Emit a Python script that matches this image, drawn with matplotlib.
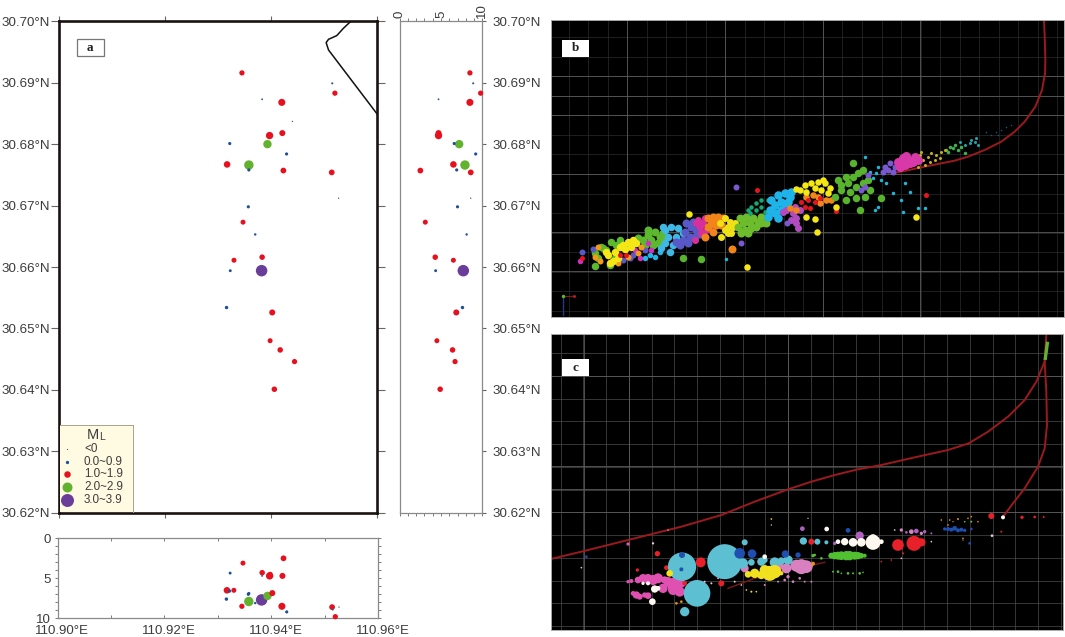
import numpy as np
import matplotlib
matplotlib.use('Agg')
import matplotlib.pyplot as plt
from matplotlib.patches import Rectangle
from matplotlib.transforms import ScaledTranslation

plt.rcParams['font.family'] = ['Liberation Sans', 'DejaVu Sans']

# ---- events of panel a (lon, lat, depth km, ML, shown in the lon section) ----
event_lon = [110.9345, 110.9515, 110.9520, 110.9383, 110.9420, 110.9440, 110.9421, 110.9397, 110.9393, 110.9322,
             110.9429, 110.9317, 110.9358, 110.9358, 110.9423, 110.9514, 110.9527, 110.9357, 110.9347, 110.9370,
             110.9383, 110.9330, 110.9382, 110.9323, 110.9316, 110.9402, 110.9398, 110.9417, 110.9444, 110.9406]
event_lat = [30.6916, 30.6899, 30.6883, 30.6873, 30.6868, 30.6837, 30.6818, 30.6814, 30.6800, 30.6801,
             30.6784, 30.6767, 30.6766, 30.6758, 30.6757, 30.6754, 30.6712, 30.6698, 30.6673, 30.6653,
             30.6616, 30.6611, 30.6594, 30.6594, 30.6534, 30.6526, 30.6480, 30.6465, 30.6446, 30.6401]
event_depth = [8.5, 8.9, 9.8, 4.7, 8.5, np.nan, 4.7, 4.7, 7.2, 6.6,
               9.2, 6.5, 7.9, 6.9, 2.5, 8.6, 8.6, 7.0, 3.1, 8.1,
               4.3, 6.5, 7.7, 4.35, 7.6, 6.85, 4.5, 6.4, 6.7, 4.9]
event_mag = [1.1, -0.1, 1.1, -0.2, 1.8, -0.4, 1.4, 1.9, 2.3, 0.3,
             0.3, 1.6, 2.7, 0.3, 1.3, 1.3, -0.4, 0.3, 1.0, 0.0,
             1.2, 1.0, 3.5, 0.2, 0.4, 1.4, 1.0, 1.2, 1.1, 1.2]
in_lon_section = [1, 1, 1, 1, 1, 0, 1, 1, 1, 1,
                  1, 1, 1, 1, 1, 1, 1, 1, 1, 1,
                  1, 1, 1, 1, 1, 1, 1, 0, 0, 0]

coast_lon = [110.9550, 110.9536, 110.95235, 110.9508, 110.95035, 110.9508, 110.9600]
coast_lat = [30.7000, 30.69886, 30.69767, 30.69707, 30.69653, 30.69533, 30.68485]

legend_labels = ['<0', '0.0~0.9', '1.0~1.9', '2.0~2.9', '3.0~3.9']
legend_diam = [1.2, 3.3, 6.5, 10, 13]
class_colors = ['#3a5a8c', '#1d4f9c', '#e6101e', '#62b22f', '#6a3d9a']

lon_ticks = [110.90, 110.92, 110.94, 110.96]
lat_ticks = [30.62, 30.63, 30.64, 30.65, 30.66, 30.67, 30.68, 30.69, 30.70]
depth_ticks = [0, 5, 10]

# ---- panel b, positions, grouped by colour along the band ----
b_green1 = [(140,728),(150,745),(165,715),(190,695),(175,720),(205,705),(140,768),(185,765),(160,712),(200,745),(215,690),(235,705)]
b_yellow1 = [(225,705),(240,695),(215,712),(255,690),(230,718),(180,735),(195,752),(185,760),(210,745),(265,700),(175,725),(250,710),(200,725)]
b_orange1 = [(142,740),(150,712),(210,760),(270,730),(240,740),(280,712),(155,752)]
b_indigo1 = [(103,727),(245,745),(135,718),(225,750),(290,720),(255,735)]
b_red1 = [(103,744),(235,735),(215,735)]
b_magenta1 = [(95,752),(275,745),(260,720),(300,700),(310,720)]
b_sky1 = [(320,740),(305,735),(290,745),(335,725)]
b_green2 = [(285,690),(300,675),(320,665),(335,680),(310,690),(290,705),(330,700),(345,690),(270,685),(315,705),(345,670),(300,660)]
b_sky2 = [(350,660),(370,650),(390,655),(360,680),(385,680),(405,670),(350,700),(375,705),(400,695),(340,715),(365,725),(345,650)]
b_indigo2 = [(415,640),(430,650),(445,660),(410,665),(425,680),(440,680),(405,690),(420,700),(395,705),(455,672),(385,695),(435,635)]
b_magenta2 = [(450,630),(465,640),(475,660),(455,650),(445,640),(470,625),(485,650),(460,670),(440,690)]
b_orange2 = [(480,625),(495,620),(510,630),(525,625),(490,640),(505,645),(520,645),(480,650),(495,665),(510,620),(470,680),(552,716)]
b_yellow2 = [(530,625),(545,635),(555,650),(540,650),(550,670),(530,660),(520,680),(515,640),(560,640),(540,668)]
b_green3 = [(575,625),(595,620),(615,625),(630,635),(585,640),(605,640),(625,650),(590,660),(610,655),(600,670),(640,640),(570,650),(580,670),(640,620),(655,640)]
b_teal = [(610,590),(625,580),(640,590),(650,605),(625,600),(605,610),(640,570),(660,570),(600,600)]
b_sky3 = [(670,570),(690,555),(710,550),(725,560),(680,585),(700,575),(720,575),(665,600),(680,610),(700,600),(660,620),(690,625),(730,545),(710,590)]
b_magenta3 = [(715,600),(735,610),(745,625),(755,600),(730,630),(745,640),(750,655),(740,590),(705,605)]
b_red3 = [(770,590),(785,595),(800,575),(780,570),(760,575),(815,565),(865,603),(628,540),(1133,555)]
b_orange3 = [(775,560),(795,555),(815,580),(835,570),(810,560),(850,570),(725,595),(745,600)]
b_yellow3 = [(770,525),(790,520),(810,515),(830,520),(845,535),(800,535),(820,540),(775,545),(755,540),(840,550),(825,510),(745,538),(775,620),(800,628),(865,592),(807,665),(596,770),(424,613),(1104,620)]
b_green4 = [(860,560),(880,540),(900,520),(915,500),(930,490),(945,480),(895,500),(870,510),(905,545),(925,530),(945,520),(960,510),(895,570),(925,565),(950,560),(880,525),(965,540),(935,600),(915,460),(998,563),(405,744),(458,747)]
b_sky4 = [(965,485),(985,490),(1000,510),(975,505),(990,470),(1015,520),(980,600),(1060,570),(1072,520),(1035,550),(1065,605),(1110,595),(1130,595),(1085,545),(950,440),(990,590),(533,748)]
b_violet = [(1010,470),(1025,460),(1040,470),(1020,480),(1005,485),(1035,485),(950,530),(960,495),(940,540),(563,530),(580,700),(716,638)]
b_magenta4 = [(1050,455),(1065,445),(1080,450),(1095,455),(1110,450),(1070,465),(1085,460),(1055,470),(1100,440),(1075,438)]
b_gold = [(1115,435),(1125,450),(1140,440),(1150,430),(1165,435),(1180,425),(1130,465),(1145,455),(1160,450),(1175,445),(1120,425),(1190,420),(1110,470)]
b_green5 = [(1195,420),(1205,410),(1215,415),(1230,420),(1220,405),(1240,410),(1200,425),(1250,430)]
b_teal5 = [(1235,395),(1250,405),(1265,400),(1280,395),(1290,405),(1270,390),(1285,385),(1240,410)]
b_dark_teal = [(1315,365),(1330,375),(1345,365),(1360,360),(1375,350),(1390,345),(1350,375)]

b_curve = [(1488,30),(1490,80),(1492,150),(1491,190),(1482,240),(1462,290),(1430,335),(1400,365),(1360,395),(1310,420),(1260,440),(1220,452),(1170,462),(1120,472),(1060,485),(1030,490)]
b_corner_line = [(44,857),(78,857)]
b_corner_drop = [(44,865),(44,915)]

c_cyan = [(530,710,105),(447,805,80),(402,725,85),(410,860,28),(590,652,18),(766,648,22),(808,650,18),(640,710,25),(680,712,30),(720,705,28),(610,712,20),(835,652,12),(650,705,18),(700,708,22),(585,715,30)]
c_blue = [(575,685,32),(612,686,26),(402,690,18),(400,733,12),(712,687,22),(750,690,16),(900,616,14),(1190,612,10),(1210,614,12),(1230,616,12),(1250,616,10),(1270,612,8),(115,695,8),(1220,610,14),(1200,612,12),(1240,614,12),(1265,655,8)]
c_red = [(458,712,30),(328,686,16),(1050,660,35),(1098,655,45),(1120,652,25),(790,650,18),(1330,573,18),(1422,577,10),(1460,576,8),(1487,576,6),(268,735,10),(520,775,18),(355,728,14),(410,775,14),(1065,685,6),(1030,705,5),(1000,710,5),(1360,620,6)]
c_magenta = [(380,780,45),(330,760,30),(300,762,30),(270,765,20),(250,768,12),(265,810,22),(300,812,20),(375,795,30),(350,765,22),(240,657,10),(240,770,10),(285,760,26),(315,765,30),(345,790,28),(395,800,30),(290,810,16),(255,805,14),(275,815,18),(360,770,28),(400,775,26)]
c_pink = [(760,725,45),(715,730,30),(790,720,12),(590,730,24),(735,770,8),(770,770,6),(710,765,8),(745,722,36),(775,725,38),(695,722,22),(600,745,10),(650,780,6),(690,770,6),(720,755,10),(755,760,8),(790,770,6),(1060,615,10),(1090,620,14),(1120,625,10)]
c_yellow = [(665,745,45),(620,745,28),(640,750,25),(365,745,20),(700,745,12),(610,800,6),(670,582,5),(680,740,40),(650,735,30),(600,748,20),(625,800,5),(595,795,5)]
c_green = [(850,692,18),(870,692,24),(895,692,28),(920,692,24),(940,692,16),(795,692,10),(870,740,8),(900,745,8),(935,745,8),(820,700,8),(1270,590,6),(860,692,22),(880,692,26),(905,692,28),(930,692,22),(950,692,12),(855,740,6),(880,745,5),(915,745,6),(945,742,5),(800,690,8),(1250,590,5)]
c_white = [(890,650,22),(915,652,26),(940,652,26),(975,652,45),(975,640,25),(320,792,22),(313,830,20),(285,775,10),(650,695,14),(1000,650,14),(836,612,14),(1365,577,12),(300,775,12),(330,790,14),(870,650,14)]
c_violet = [(935,632,25),(763,611,14),(1105,618,14),(1130,620,10),(860,655,10),(1075,622,8),(1150,625,6)]
c_orange = [(1180,585,5),(1205,585,5),(1230,582,6),(1260,580,5),(1290,590,5),(385,835,8),(400,830,8),(795,716,12),(1245,645,4),(1200,600,5),(1245,640,5),(1215,590,4),(1270,575,5)]
c_dust = [(470,770,6),(490,775,6),(510,760,5),(560,770,6),(580,780,5),(1040,615,5),(1060,700,5),(1150,650,5),(1332,632,8),(360,615,4),(100,728,5),(315,655,7),(670,600,4),(780,580,4)]

c_upper_curve = [(8,702),(100,680),(200,655),(300,630),(400,605),(520,570),(620,530),(720,493),(790,470),(860,450),(930,433),(1000,420),(1100,397),(1200,375),(1262,355),(1320,320),(1380,275),(1430,225),(1465,170),(1490,110),(1495,30)]
c_lower_curve = [(1490,110),(1495,200),(1497,300),(1490,370),(1470,425),(1430,490),(1395,535),(1365,575)]
c_band_curve = [(830,712),(700,740),(620,760),(540,790)]
c_green_piece = [(1498,55),(1492,100)]

b_bright_rows = [198, 257, 315, 491, 667, 784]
b_bright_cols = [238, 530, 824, 1117]
c_bright_rows = [152, 424, 492, 560]
c_bright_cols = [107, 243, 721]

FIG_W, FIG_H = 1065, 637
TEXT_COLOR = '#3c3c3c'
FRAME_GRAY = '#8a8a8a'
TICK_GRAY = '#666666'
CURVE_RED = '#9c1a1e'


def add_axes_px(fig, left, top, right, bottom):
    return fig.add_axes([left / FIG_W, 1 - bottom / FIG_H, (right - left) / FIG_W, (bottom - top) / FIG_H])


def diam_to_s(diam_px):
    # scatter wants points^2, diameters are in pixels at dpi 100
    return (np.asarray(diam_px) * 0.72) ** 2


def mag_colors(mags):
    out = []
    for m in mags:
        if m < 0:
            out.append(class_colors[0])
        elif m < 1:
            out.append(class_colors[1])
        elif m < 2:
            out.append(class_colors[2])
        elif m < 3:
            out.append(class_colors[3])
        else:
            out.append(class_colors[4])
    return out


lon = np.array(event_lon)
lat = np.array(event_lat)
depth = np.array(event_depth)
mag = np.array(event_mag)
keep_lon = np.array(in_lon_section) == 1
order = np.argsort(-mag)
sizes = diam_to_s(2.4 + 2.6 * mag)
colors = np.array(mag_colors(mag))

fig = plt.figure(figsize=(FIG_W / 100, FIG_H / 100), dpi=100, facecolor='white')

# ---- a: map ----
ax_map = add_axes_px(fig, 58.7, 21.3, 377.4, 512.7)
ax_map.scatter(lon[order], lat[order], s=sizes[order], c=colors[order], linewidths=0, zorder=3)
ax_map.plot(coast_lon, coast_lat, color='#111111', lw=1.1, zorder=2)
ax_map.set_xlim(110.90, 110.96)
ax_map.set_ylim(30.62, 30.70)
ax_map.set_xticks(lon_ticks)
ax_map.set_yticks(lat_ticks)
ax_map.set_yticklabels([f'{v:.2f}°N' for v in lat_ticks], fontsize=9.6, color=TEXT_COLOR)
ax_map.tick_params(axis='x', top=True, bottom=True, labelbottom=False, length=3.6, width=0.8, color=TICK_GRAY)
ax_map.tick_params(axis='y', left=True, right=True, length=5.7, width=0.8, color=TICK_GRAY, pad=0.7)
for sp in ax_map.spines.values():
    sp.set_linewidth(1.9)
    sp.set_color('#1a1210')

ax_map.add_patch(Rectangle((0.0565, 0.9285), 0.0865, 0.036, transform=ax_map.transAxes, fc='white', ec='#777777', lw=0.9, zorder=4))
ax_map.text(0.0995, 0.9465, 'a', transform=ax_map.transAxes, family='Liberation Serif', weight='bold',
            fontsize=9.5, color='#222222', ha='center', va='center', zorder=5)

# ---- a: legend, own little axes in pixels ----
ax_leg = add_axes_px(fig, 59.5, 425.3, 132.8, 511.8)
ax_leg.set_xlim(0, 73.3)
ax_leg.set_ylim(86.5, 0)
ax_leg.set_facecolor('#fffbe3')
ax_leg.set_xticks([])
ax_leg.set_yticks([])
for sp in ax_leg.spines.values():
    sp.set_color('#a8a48c')
    sp.set_linewidth(0.7)
ax_leg.spines['bottom'].set_visible(False)
ax_leg.spines['left'].set_visible(False)
ax_leg.text(33, 10, 'M', fontsize=10.5, color=TEXT_COLOR, ha='center', va='center')
ax_leg.text(42, 11.5, 'L', fontsize=7.5, color=TEXT_COLOR, ha='center', va='center')
for i, label in enumerate(legend_labels):
    row_y = 23.5 + i * 12.8
    ax_leg.scatter([7.2], [row_y], s=diam_to_s(legend_diam[i]), c=class_colors[i], linewidths=0, clip_on=False, zorder=3)
    ax_leg.text(24.5, row_y, label, fontsize=8.4, color=TEXT_COLOR, ha='left', va='center')

# ---- bottom: longitude vs depth ----
ax_sec = add_axes_px(fig, 57.7, 538.3, 378, 618.3)
ax_sec.scatter(lon[order][keep_lon[order]], depth[order][keep_lon[order]], s=sizes[order][keep_lon[order]],
               c=colors[order][keep_lon[order]], linewidths=0, clip_on=False, zorder=3)
ax_sec.set_xlim(110.90, 110.96)
ax_sec.set_ylim(10, 0)
ax_sec.set_xticks(lon_ticks)
ax_sec.set_xticklabels([f'{v:.2f}°E' for v in lon_ticks], fontsize=9.5, color=TEXT_COLOR)
ax_sec.set_xticks([110.91, 110.93, 110.95], minor=True)
ax_sec.set_yticks(depth_ticks)
ax_sec.set_yticklabels([str(v) for v in depth_ticks], fontsize=9.5, color=TEXT_COLOR)
ax_sec.set_yticks(np.arange(0, 11), minor=True)
ax_sec.tick_params(axis='x', which='both', length=2, width=0.6, color=TICK_GRAY, pad=4.8, top=True, direction='in')
ax_sec.tick_params(axis='y', which='both', length=2, width=0.6, color=TICK_GRAY, pad=3, right=True, direction='out')
# the longitude labels sit a little right of their ticks
shift = ScaledTranslation(4.5 / 100, 0, fig.dpi_scale_trans)
for tick_label in ax_sec.get_xticklabels():
    tick_label.set_transform(tick_label.get_transform() + shift)
for sp in ax_sec.spines.values():
    sp.set_color(FRAME_GRAY)
    sp.set_linewidth(0.9)

# ---- right: depth vs latitude ----
ax_dep = add_axes_px(fig, 399.7, 21.3, 482.3, 512.7)
ax_dep.scatter(depth[order], lat[order], s=sizes[order], c=colors[order], linewidths=0, clip_on=False, zorder=3)
ax_dep.set_xlim(0, 10)
ax_dep.set_ylim(30.62, 30.70)
ax_dep.xaxis.tick_top()
ax_dep.set_xticks(depth_ticks)
ax_dep.set_xticklabels([str(v) for v in depth_ticks], fontsize=9.5, color=TEXT_COLOR, rotation=90, ha='center', va='bottom')
ax_dep.set_xticks(np.arange(0, 11), minor=True)
ax_dep.yaxis.tick_right()
ax_dep.set_yticks(lat_ticks)
ax_dep.set_yticklabels([f'{v:.2f}°N' for v in lat_ticks], fontsize=9.6, color=TEXT_COLOR)
ax_dep.tick_params(axis='x', which='both', length=2, width=0.6, color=TICK_GRAY, pad=0.5, bottom=True, top=True)
ax_dep.tick_params(axis='y', length=3, width=0.8, color=TICK_GRAY, pad=4)
for sp in ax_dep.spines.values():
    sp.set_color(FRAME_GRAY)
    sp.set_linewidth(0.9)


def setup_dark_panel(ax, xlim, ylim, grid_x, grid_y, bright_x, bright_y, grid_color, label, label_y):
    ax.set_facecolor('black')
    ax.set_xlim(*xlim)
    ax.set_ylim(*ylim)
    ax.set_xticks(grid_x)
    ax.set_yticks(grid_y)
    ax.tick_params(length=0, labelbottom=False, labelleft=False)
    ax.grid(True, color=grid_color, lw=0.5, zorder=0)
    ax.set_axisbelow(True)
    ax.vlines(bright_x, *ylim, color='#5c5c5c', lw=0.6, zorder=1)
    ax.hlines(bright_y, *xlim, color='#5c5c5c', lw=0.6, zorder=1)
    for sp in ax.spines.values():
        sp.set_color('#aaaaaa')
        sp.set_linewidth(0.7)
    ax.add_patch(Rectangle((42, label_y), 80, 50, fc='white', ec='none', zorder=6))
    ax.text(82, label_y + 25, label, family='Liberation Serif', weight='bold', fontsize=9.5,
            color='#222222', ha='center', va='center', zorder=7)


def draw_curve(ax, pts, color=CURVE_RED, lw=1.4, zorder=2):
    ax.plot([p[0] for p in pts], [p[1] for p in pts], color=color, lw=lw, zorder=zorder)


def dots(ax, pts, color, diam_px):
    ax.scatter([p[0] for p in pts], [p[1] for p in pts], s=diam_to_s(diam_px), c=color, linewidths=0, zorder=3)


def discs(ax, rows, color):
    # rows carry their diameter in the same units as x and y (3 units = 1 pixel)
    ax.scatter([r[0] for r in rows], [r[1] for r in rows], s=diam_to_s(np.array([r[2] for r in rows]) / 3),
               c=color, linewidths=0, zorder=3)


# ---- b ----
ax_b = add_axes_px(fig, 550.7, 20.0, 1063.7, 317.3)
setup_dark_panel(ax_b, (8, 1547), (922, 30), np.arange(62, 1547, 58.65), np.arange(81, 922, 58.7),
                 b_bright_cols, b_bright_rows, '#2c2c2c', 'b', 90)
draw_curve(ax_b, b_curve)
draw_curve(ax_b, b_corner_line, color='#7a1a1a', lw=0.8)
draw_curve(ax_b, b_corner_drop, color='#1d3a8c', lw=1.0)
dots(ax_b, [(44,857)], '#62b22f', 3.5)
dots(ax_b, [(78,857)], '#c01820', 3)

for pts, col, d in [
    (b_dark_teal, '#0f5f70', 1.5), (b_teal5, '#1fa8b0', 3), (b_green5, '#3fb050', 3.5), (b_gold, '#c8b020', 3),
    (b_green1, '#5cb82e', 7.5), (b_green2, '#5cb82e', 8), (b_sky1, '#22b5e8', 5.5), (b_sky2, '#3fb8e6', 7.5),
    (b_indigo1, '#5a58c8', 6), (b_indigo2, '#5a58c8', 8), (b_magenta1, '#d030c0', 5.5), (b_magenta2, '#d8309a', 7),
    (b_orange1, '#f39a1a', 6), (b_orange2, '#f2851a', 8), (b_yellow1, '#f5e616', 7.5), (b_yellow2, '#f0e016', 7),
    (b_red1, '#e8141e', 5), (b_green3, '#6cbc2e', 8), (b_teal, '#18a878', 4.5), (b_sky3, '#1eb4ea', 8.5),
    (b_magenta3, '#b24ac0', 7), (b_orange3, '#f2851a', 6.5), (b_red3, '#e8141e', 5), (b_yellow3, '#f5e616', 6.5),
    (b_green4, '#58b42c', 7.5), (b_sky4, '#1fb6d8', 3.5), (b_violet, '#7a58d0', 6), (b_magenta4, '#d838a8', 9),
]:
    dots(ax_b, pts, col, d)

# ---- c ----
ax_c = add_axes_px(fig, 550.7, 333.7, 1063.0, 630.0)
setup_dark_panel(ax_c, (8, 1545), (915, 26), np.arange(38, 1545, 68.2), np.arange(84, 915, 68.3),
                 c_bright_cols, c_bright_rows, '#4c4c4c', 'c', 103)
draw_curve(ax_c, c_upper_curve)
draw_curve(ax_c, c_lower_curve)
draw_curve(ax_c, c_band_curve, color='#7a1a1a', lw=1.0)
draw_curve(ax_c, c_green_piece, color='#62b22f', lw=2.4, zorder=3)

discs(ax_c, c_magenta, '#e050b0')
discs(ax_c, c_red, '#e8202a')
discs(ax_c, c_pink, '#d880c0')
discs(ax_c, c_cyan, '#5cc0d2')
discs(ax_c, c_blue, '#1f4fb0')
discs(ax_c, c_yellow, '#f0e020')
discs(ax_c, c_green, '#50c030')
discs(ax_c, c_violet, '#b060c0')
discs(ax_c, c_orange, '#e09020')
discs(ax_c, c_dust, '#e8c8e0')
discs(ax_c, c_white, '#fff8f0')

fig.savefig('out.png', dpi=100, facecolor='white')
